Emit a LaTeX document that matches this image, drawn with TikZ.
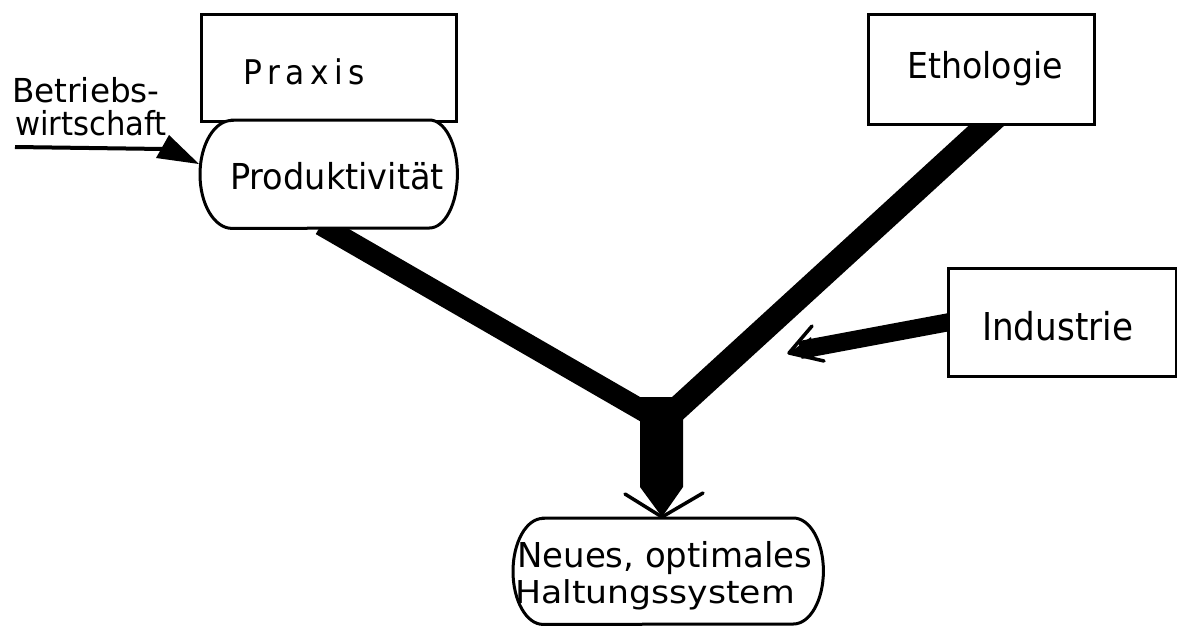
\documentclass[tikz,border=0pt]{standalone}
\usepackage{fontspec}
\setmainfont{DejaVu Sans}
\pgfdeclarelayer{bg}
\pgfsetlayers{bg,main}
\newcommand{\lettering}[3]{\scalebox{#2}[1]{\fontsize{#1}{#1}\selectfont #3}}
\begin{document}
\begin{tikzpicture}[x=1pt,y=-1pt,line join=miter,
  box/.style={draw,line width=3pt,fill=white,inner sep=0pt,anchor=north west},
  area/.style={inner sep=0pt,anchor=north west},
  outline/.style={draw,line width=3pt,fill=white},
  lbl/.style={inner sep=0pt,anchor=base west},
  thin/.style={line width=3.5pt,line cap=round,line join=round}]
\useasboundingbox (0,0) rectangle (1177,626);
% boxes
\node[box,minimum width=255pt,minimum height=107pt] (praxis) at (200,13) {};
\node[box,minimum width=226pt,minimum height=110pt] (etho) at (867,13) {};
\node[box,minimum width=228pt,minimum height=108pt] (ind) at (947,267) {};
% stadium areas
\node[area,minimum width=257pt,minimum height=108pt] (prod) at (200,120) {};
\node[area,minimum width=310pt,minimum height=106pt] (neu) at (513,518) {};
\draw[outline] ([xshift=32pt]prod.north west) -- ([xshift=-28pt]prod.north east)
  arc[start angle=90,end angle=-90,x radius=28pt,y radius=54pt]
  -- ([xshift=32pt]prod.south west)
  arc[start angle=270,end angle=90,x radius=32pt,y radius=54pt] -- cycle;
\draw[outline] ([xshift=30pt]neu.north west) -- ([xshift=-30pt]neu.north east)
  arc[start angle=90,end angle=-90,x radius=30pt,y radius=53pt]
  -- ([xshift=30pt]neu.south west)
  arc[start angle=270,end angle=90,x radius=30pt,y radius=53pt] -- cycle;
% labels
\node[lbl] (tpraxis) at (243,84) {\lettering{34}{0.92}{P\kern6pt r\kern6pt a\kern6pt x\kern6pt i\kern6pt s}};
\node[lbl] (tbetr) at (12,102) {\lettering{33}{0.99}{Betriebs-}};
\node[lbl] (twirt) at (15,135) {\lettering{33}{0.93}{wirtschaft}};
\node[lbl] (tprod) at (230,189) {\lettering{35.7}{0.94}{Produktivität}};
\node[lbl] (tetho) at (907,78) {\lettering{35.7}{0.93}{Ethologie}};
\node[lbl] (tind) at (982,340) {\lettering{38.4}{0.89}{Industrie}};
\node[lbl] (tneu1) at (517,567) {\lettering{34.3}{0.99}{Neues, optimales}};
\node[lbl] (tneu2) at (515,603) {\lettering{31.5}{1.10}{Haltungssystem}};
% connector points
\coordinate (pbar) at (321,225);
\coordinate (ebar) at (997,116);
\coordinate (jl) at (652,416);
\coordinate (jr) at (668,417);
\coordinate (ibar) at (955,321);
\coordinate (iend) at (800,350);
\coordinate (itip) at (789,353);
\coordinate (jtip) at (662,517);
\coordinate (bstart) at (15,147);
\coordinate (bmid) at (163,149);
\coordinate (btip) at (199,164);
\begin{pgfonlayer}{bg}
\draw[line width=21pt] (pbar) -- (jl);
\draw[line width=24pt] (ebar) -- (jr);
\draw[line width=18pt] (ibar) -- (iend);
\end{pgfonlayer}
% junction shaft and head
\fill (640,397) -- (683,397) -- (683,487) -- (jtip) -- (640,487) -- cycle;
\draw[thin] (625,494) -- (jtip) -- (703,493);
% Industrie arrow head
\fill (itip) -- (811,337) -- (815,360) -- cycle;
\draw[thin] (812,326) -- (itip) -- (824,361);
% Betriebswirtschaft arrow
\draw[line width=4pt] (bstart) -- (bmid);
\fill (169,135) -- (btip) -- (156,158) -- cycle;
\end{tikzpicture}
\end{document}
